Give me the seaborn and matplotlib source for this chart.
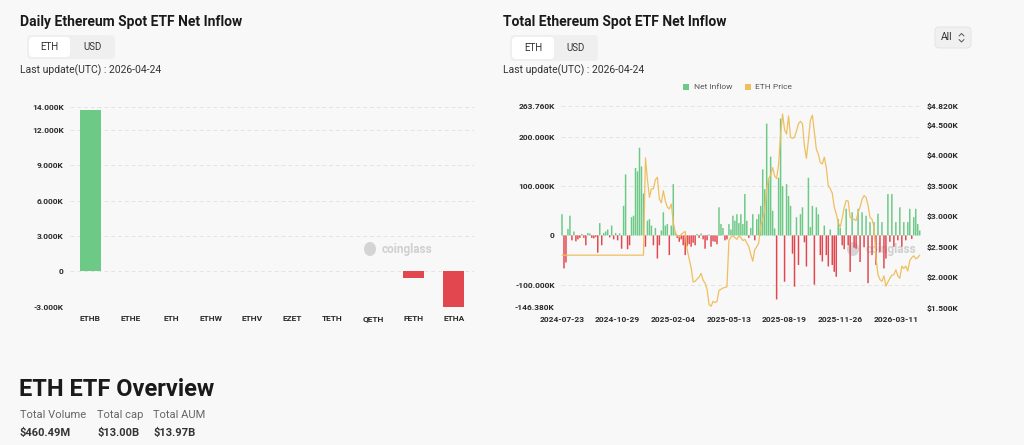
import numpy as np
import pandas as pd
import matplotlib
matplotlib.use("Agg")
import matplotlib.pyplot as plt
from matplotlib.patches import FancyBboxPatch, Rectangle, Ellipse
import seaborn as sns

# ---- data ----
funds = ["ETHB", "ETHE", "ETH", "ETHW", "ETHV", "EZET", "TETH", "QETH", "FETH", "ETHA"]
daily_flow = [13740, 0, 0, 0, 0, 0, 0, 0, -570, -3300]          # ETH
daily_ticks = [-3000, 0, 3000, 6000, 9000, 12000, 14000]

# total net inflow, thousand ETH (one value per ~2.5 trading days)
total_flow = [
    43, -67, -55, 13, 40, -10, 8, -12, -8, -5,
    3, -5, -20, 5, 4, -5, -6, -3, -35, 25,
    -20, 5, 8, 12, -4, 20, -8, 5, -10, 4,
    -27, 60, 124, -28, -20, 37, 40, 137, 130, 178,
    140, 85, -23, 30, 33, 20,
    -20, 15, -47, -20, 10, 47, 20, 23, -40, 20,
    104, 8, -5, -13, -8, -20, -40, -22, -18, -23,
    -15, -20, 3, -5, 4, -8, -27, -10, 2, -23,
    -12, -13, -18, 57, 23, 15, -10, -8, 23, 12,
    40, 30, 43, 25, 43, 23,
    84, 30, -5, 15, 43, -10, 33, 43, 60, 134,
    94, 227, 114, 160, 50, 14, -130, 117, 237, 100,
    -94, 104, 80, 60, -37, -104, 37, -60, 43, 57,
    -14, -63, 117, 17, 60, -100, 57, 43, -40, -53,
    20, -40, -63, 12, -60, -74,
    -84, 33, 15, -20, -28, 54, -20, -74, 47, -25,
    -27, 54, -54, 47, -24, 40, -97, 27, -40, 27,
    -60, 44, -34, 27, -67, -47, 84, -13, 84, -23,
    27, -10, 57, -23, 27, -10, 27, 54, -7, 37,
    54, 23, 10,
]
# ETH price, thousand USD
eth_price = [
    2.36, 2.36, 2.36, 2.36, 2.36, 2.36, 2.36, 2.36, 2.36, 2.36,
    2.36, 2.36, 2.36, 2.36, 2.36, 2.36, 2.36, 2.36, 2.36, 2.36,
    2.36, 2.36, 2.36, 2.36, 2.36, 2.36, 2.36, 2.36, 2.36, 2.36,
    2.36, 2.36, 2.36, 2.36, 2.36, 2.36, 2.36, 2.36, 2.36, 2.36,
    2.36, 2.36, 3.96, 3.6, 3.31, 3.45,
    3.45, 3.6, 3.64, 3.28, 3.22, 3.42, 3.25, 3.15, 3.12, 3.2,
    2.9, 2.73, 2.68, 2.66, 2.7, 2.73, 2.75, 2.45, 2.3, 2.15,
    1.92, 1.93, 1.97, 2.0, 2.06, 1.95, 1.9, 1.8, 1.55, 1.52,
    1.6, 1.58, 1.6, 1.78, 1.8, 1.82, 1.83, 1.84, 2.6, 2.66,
    2.68, 2.65, 2.62, 2.68, 2.65, 2.6,
    2.62, 2.56, 2.5, 2.37, 2.26, 2.45, 2.5, 2.56, 2.85, 2.95,
    3.1, 3.45, 3.62, 3.68, 3.8, 3.66, 3.62, 3.85, 4.35, 4.68,
    4.42, 4.35, 4.65, 4.3, 4.28, 4.3, 4.4, 4.52, 4.56, 4.52,
    4.15, 3.95, 4.25, 4.58, 4.66, 4.38, 4.1, 4.02, 3.88, 3.86,
    3.97, 3.8, 3.5, 3.45, 3.38, 3.15,
    3.04, 2.9, 2.82, 2.97, 3.14, 3.26, 3.25, 2.98, 2.96, 2.95,
    2.93, 3.06, 3.15, 3.28, 3.34, 3.31, 3.18, 2.98, 2.95, 2.82,
    2.32, 2.04, 1.96, 1.93, 2.02, 1.85, 1.92, 1.98, 2.03, 2.04,
    2.12, 2.02, 1.98, 2.18, 2.14, 2.18, 2.1, 2.27, 2.32, 2.35,
    2.3, 2.32, 2.36,
]
date_ticks = ["2024-07-23", "2024-10-29", "2025-02-04", "2025-05-13",
              "2025-08-19", "2025-11-26", "2026-03-11"]
flow_ticks = [-146.38, -100, 0, 100, 200, 263.76]
price_ticks = [1.5, 2.0, 2.5, 3.0, 3.5, 4.0, 4.5, 4.82]

overview_labels = ["Total Volume", "Total cap", "Total AUM"]
overview_values = ["$460.49M", "$13.00B", "$13.97B"]
last_update = "Last update(UTC) : 2026-04-24"

GREEN = "#6cc986"
RED = "#e2474f"
ORANGE = "#efbf5f"
BG = "#f8f8f8"
GRID = "#e4e4e4"
TXT = "#333333"
TICK = "#2a2a2a"

sns.set_theme(style="white")
plt.rcParams["font.family"] = ["Roboto", "DejaVu Sans"]

W, H = 1024, 445
fig = plt.figure(figsize=(W / 100, H / 100), dpi=100, facecolor=BG)


def box(l, t, r, b):
    return [l / W, 1 - b / H, (r - l) / W, (b - t) / H]


# overlay in pixel coordinates for the page furniture
ov = fig.add_axes([0, 0, 1, 1], zorder=0)
ov.set_xlim(0, W)
ov.set_ylim(H, 0)
ov.axis("off")


def toggle(x0, x1, sel1, y0, y1):
    ov.add_patch(FancyBboxPatch((x0, y0), x1 - x0, y1 - y0,
                                boxstyle="round,pad=0,rounding_size=5",
                                fc="#efefef", ec="none"))
    ov.add_patch(FancyBboxPatch((x0 + 2, y0 + 2), sel1 - x0 - 2, y1 - y0 - 4,
                                boxstyle="round,pad=0,rounding_size=4",
                                fc="white", ec="none"))
    ov.text((x0 + sel1) / 2 + 1, (y0 + y1) / 2, "ETH", fontsize=7, color=TXT,
            ha="center", va="center")
    ov.text((sel1 + x1) / 2, (y0 + y1) / 2, "USD", fontsize=7, color=TXT,
            ha="center", va="center")


for x0, title in [(20, "Daily Ethereum Spot ETF Net Inflow"),
                  (503, "Total Ethereum Spot ETF Net Inflow")]:
    ov.text(x0, 22, title, fontsize=10, fontweight="bold", color="#1a1a1a",
            va="center", ha="left")
    ov.text(x0, 70.5, last_update, fontsize=7.5, color=TXT, va="center", ha="left")
toggle(27, 115, 70, 35, 59)
toggle(510, 598, 554, 35, 61)

# "All" selector
ov.add_patch(FancyBboxPatch((935, 27), 36, 21, boxstyle="round,pad=0,rounding_size=4",
                            fc="#f0f0f0", ec="#e2e2e2", lw=0.6))
ov.text(941, 37.5, "All", fontsize=7.5, color=TXT, va="center", ha="left")
ov.plot([959, 961.5, 964], [36, 33.5, 36], color="#555", lw=0.7)
ov.plot([959, 961.5, 964], [39.5, 42, 39.5], color="#555", lw=0.7)

# legend of the right chart
ov.add_patch(Rectangle((683, 84), 6, 6, fc=GREEN, ec="none"))
ov.text(694, 87, "Net Inflow", fontsize=6, color="#555", va="center", ha="left")
ov.add_patch(Rectangle((745, 84), 6, 6, fc=ORANGE, ec="none"))
ov.text(755, 87, "ETH Price", fontsize=6, color="#555", va="center", ha="left")

# watermarks
for ix, tx in [(370, 382), (853, 866)]:
    ov.add_patch(Ellipse((ix, 249), 12, 14, fc="#d4d4d4", ec="none"))
    ov.text(tx, 249, "coinglass", fontsize=8.5, fontweight="bold", color="#d0d0d0",
            va="center", ha="left")

# overview block
ov.text(19, 390, "ETH ETF Overview", fontsize=17, fontweight="bold", color="#1a1a1a",
        va="center", ha="left")
for x, lab, val in zip([20, 97, 153], overview_labels, overview_values):
    ov.text(x, 415, lab, fontsize=8, color="#666666", va="center", ha="left")
    ov.text(x, 432.5, val, fontsize=8, fontweight="bold", color=TXT, va="center", ha="left")


def style(ax):
    for s in ax.spines.values():
        s.set_visible(False)
    ax.set_facecolor("none")
    ax.set_xlabel("")
    ax.set_ylabel("")
    for lab in ax.get_xticklabels() + ax.get_yticklabels():
        lab.set_fontweight("semibold")


# ---- left: daily inflow by fund ----
ax1 = fig.add_axes(box(70, 106.5, 474, 306.5), zorder=1)
df1 = pd.DataFrame({"fund": funds, "flow": daily_flow,
                    "side": ["in" if v >= 0 else "out" for v in daily_flow]})
sns.barplot(data=df1, x="fund", y="flow", hue="side", palette={"in": GREEN, "out": RED},
            dodge=False, width=0.52, saturation=1, legend=False, errorbar=None,
            linewidth=0, edgecolor="none", ax=ax1)
ax1.set_xlim(-0.5, len(funds) - 0.5)
ax1.set_ylim(daily_ticks[0], daily_ticks[-1])
ax1.set_yticks(daily_ticks)
ax1.set_yticklabels(["0" if v == 0 else f"{v / 1000:.3f}K" for v in daily_ticks])
ax1.yaxis.grid(True, color=GRID, linestyle=(0, (4, 3)), linewidth=0.7)
ax1.set_axisbelow(True)
ax1.tick_params(axis="both", length=0, labelsize=6, colors=TICK)
ax1.tick_params(axis="y", pad=4.5)
ax1.tick_params(axis="x", pad=6)
style(ax1)

# ---- right: daily flow with ETH price ----
ax2 = fig.add_axes(box(561, 105.5, 920.7, 307.5), zorder=1)
day = np.arange(len(total_flow))
bar_colors = [GREEN if v >= 0 else RED for v in total_flow]
ax2.bar(day, total_flow, width=0.75, color=bar_colors, linewidth=0, snap=False)
ax2.set_xlim(-0.5, len(total_flow) - 0.5)
ax2.set_ylim(flow_ticks[0], flow_ticks[-1])
ax2.set_yticks(flow_ticks)
ax2.set_yticklabels(["0" if v == 0 else f"{v:.3f}K" for v in flow_ticks])
ax2.set_xticks(np.arange(0, len(total_flow), 28))
ax2.set_xticklabels(date_ticks)
ax2.yaxis.grid(True, color=GRID, linestyle=(0, (4, 3)), linewidth=0.7)
ax2.set_axisbelow(True)
ax2.tick_params(axis="both", length=0, labelsize=6, colors=TICK)
ax2.tick_params(axis="y", pad=4.5)
ax2.tick_params(axis="x", pad=6)
style(ax2)

ax3 = ax2.twinx()
sns.lineplot(x=day, y=eth_price, color=ORANGE, linewidth=0.9, ax=ax3)
ax3.set_ylim(price_ticks[0], price_ticks[-1])
ax3.set_yticks(price_ticks)
ax3.set_yticklabels([f"${v:.3f}K" for v in price_ticks])
ax3.set_ylabel("")
ax3.grid(False)
ax3.tick_params(axis="y", length=0, labelsize=6, colors=TICK, pad=4.5)
style(ax3)

fig.savefig("out.png", dpi=100, facecolor=BG)
